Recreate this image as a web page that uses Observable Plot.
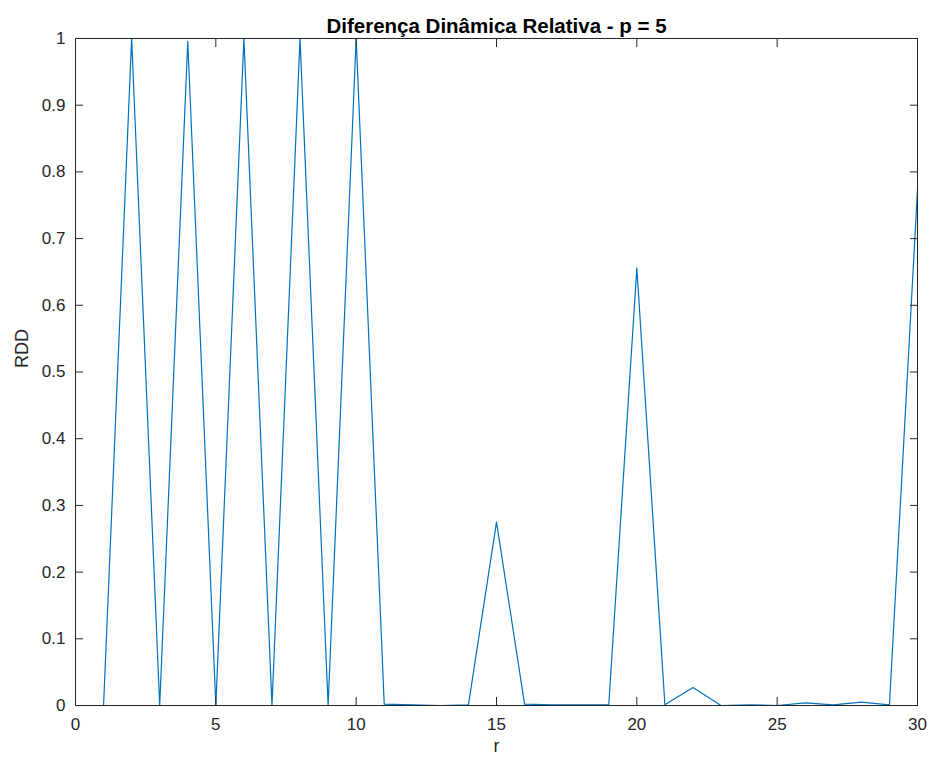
<!DOCTYPE html>
<html>
<head>
<meta charset="utf-8">
<script src="https://cdn.jsdelivr.net/npm/d3@7"></script>
<script src="https://cdn.jsdelivr.net/npm/@observablehq/plot@0.6"></script>
<style>
  html, body { margin: 0; padding: 0; background: #fff; }
</style>
</head>
<body>
<div id="chart"></div>
<script>
const title = "Diferença Dinâmica Relativa - p = 5";
const xLabel = "r";
const yLabel = "RDD";
const r = [1,2,3,4,5,6,7,8,9,10,11,12,13,14,15,16,17,18,19,20,21,22,23,24,25,26,27,28,29,30];
const rdd = [0,1.0,0,0.996,0,1.0,0,1.0,0,1.0,0.002,0.001,0,0.001,0.275,0.002,0.001,0.001,0.001,0.656,0.001,0.027,0,0.001,0,0.004,0.001,0.005,0.001,0.773];
const xTicks = [0,5,10,15,20,25,30];
const yTicks = [0,0.1,0.2,0.3,0.4,0.5,0.6,0.7,0.8,0.9,1];

const data = r.map((d, i) => ({r: d, v: rdd[i]}));
const axisColor = "#262626";
const empty = () => "";

const chart = Plot.plot({
  width: 933,
  height: 762,
  marginLeft: 75,
  marginRight: 16,
  marginTop: 38,
  marginBottom: 57,
  style: {fontFamily: "'Liberation Sans', Arial, sans-serif", fontSize: "17px", color: axisColor, background: "#fff"},
  x: {domain: [0, 30]},
  y: {domain: [0, 1]},
  marks: [
    Plot.line(data, {x: "r", y: "v", stroke: "#0072BD", strokeWidth: 1.2}),
    Plot.frame({stroke: axisColor, strokeWidth: 1}),
    Plot.axisX(xTicks, {anchor: "bottom", tickSize: 0, tickPadding: 12, label: null, fontSize: 17, fill: axisColor}),
    Plot.axisX(xTicks, {anchor: "bottom", tickSize: -8, tickFormat: empty, label: null, stroke: axisColor}),
    Plot.axisX(xTicks, {anchor: "top", tickSize: -8, tickFormat: empty, label: null, stroke: axisColor}),
    Plot.axisY(yTicks, {anchor: "left", tickSize: 0, tickPadding: 10, label: null, fontSize: 17, fill: axisColor, tickFormat: d => String(d)}),
    Plot.axisY(yTicks, {anchor: "left", tickSize: -8, tickFormat: empty, label: null, stroke: axisColor}),
    Plot.axisY(yTicks, {anchor: "right", tickSize: -8, tickFormat: empty, label: null, stroke: axisColor}),
    Plot.text([title], {frameAnchor: "top", lineAnchor: "middle", dy: -12, fontWeight: "bold", fontSize: 20.5, fill: "#000"}),
    Plot.text([xLabel], {frameAnchor: "bottom", lineAnchor: "middle", dy: 41, fontSize: 18, fill: axisColor}),
    Plot.text([yLabel], {frameAnchor: "left", lineAnchor: "middle", dx: -53, dy: -4, rotate: -90, fontSize: 18, fill: axisColor})
  ]
});
document.getElementById("chart").appendChild(chart);
</script>
</body>
</html>
